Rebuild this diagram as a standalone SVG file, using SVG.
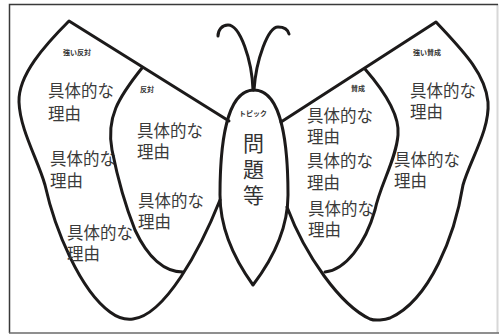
<svg xmlns="http://www.w3.org/2000/svg" width="501" height="335" viewBox="0 0 501 335" lang="ja">
  <defs>
    <style>
      .outline { fill: none; stroke: #1c1a1a; stroke-width: 3; stroke-linejoin: round; stroke-linecap: round; }
      .reason { font-family: "Liberation Sans", "Noto Sans CJK JP", sans-serif; font-size: 16.5px; fill: #3a3a3a; }
      .tag { font-family: "Liberation Sans", "Noto Sans CJK JP", sans-serif; font-size: 7px; font-weight: bold; fill: #333; text-anchor: middle; }
      .topic { font-family: "Liberation Sans", "Noto Sans CJK JP", sans-serif; font-size: 21px; fill: #333; writing-mode: vertical-rl; letter-spacing: 5px; }
    </style>
  </defs>

  <rect width="501" height="335" fill="#fff"/>
  <!-- frame -->
  <line x1="497.5" y1="4" x2="497.5" y2="333" stroke="#d8d8d8" stroke-width="2"/>
  <path d="M9.5,333 V4.5 H498" fill="none" stroke="#3a3a3a" stroke-width="1.5"/>
  <line x1="9" y1="333" x2="499" y2="333" stroke="#6a6a6a" stroke-width="1.5"/>

  <g id="connectors">
    <!-- antennae -->
    <path class="outline" d="M253,90 C252,60 240,25 228,25 C222,25 218,30 218,36"/>
    <path class="outline" d="M254,90 C256,60 268,27 278,27 C284,27 288,30 289,34"/>
  </g>

  <g id="wing-strong-against">
    <path class="outline" d="M229,121 L69,21 C45,45 18,75 19,102 C20,130 38,160 45,185 C55,230 80,290 110,312 C118,318 126,320 133,319 C165,315 200,250 220,200"/>
    <text class="tag" x="77" y="55">強い反対</text>
    <text class="reason"><tspan x="48" y="97">具体的な</tspan><tspan x="48" dy="23">理由</tspan></text>
    <text class="reason"><tspan x="50" y="165">具体的な</tspan><tspan x="50" dy="22">理由</tspan></text>
    <text class="reason"><tspan x="67" y="239">具体的な</tspan><tspan x="67" dy="21">理由</tspan></text>
  </g>

  <g id="wing-against">
    <path class="outline" d="M142,68 C118,98 106,118 112,150 C118,180 125,205 135,230 C148,258 165,272 183,272"/>
    <text class="tag" x="147" y="92">反対</text>
    <text class="reason"><tspan x="137" y="137">具体的な</tspan><tspan x="137" dy="21">理由</tspan></text>
    <text class="reason"><tspan x="138" y="207">具体的な</tspan><tspan x="138" dy="21">理由</tspan></text>
  </g>

  <g id="body-topic">
    <path class="outline" d="M253,285 C235,260 220,230 220,195 C220,150 225,90 254,90 C283,90 288,150 288,195 C288,230 272,260 253,285 Z" fill="#fff"/>
    <text class="tag" x="253" y="116">トピック</text>
    <text class="topic" x="252" y="133">問題等</text>
  </g>

  <g id="wing-for">
    <path class="outline" d="M365,69 C385,92 400,115 398,135 C396,160 380,185 375,210 C365,245 345,270 325,272"/>
    <text class="tag" x="358" y="91">賛成</text>
    <text class="reason"><tspan x="307" y="122">具体的な</tspan><tspan x="307" dy="21">理由</tspan></text>
    <text class="reason"><tspan x="307" y="167">具体的な</tspan><tspan x="307" dy="22">理由</tspan></text>
    <text class="reason"><tspan x="308" y="215">具体的な</tspan><tspan x="308" dy="21">理由</tspan></text>
  </g>

  <g id="wing-strong-for">
    <path class="outline" d="M281,122 L436,22 C460,48 485,72 488,102 C490,130 470,160 463,185 C455,235 430,300 390,318 C385,320 375,321 370,319 C340,305 305,255 287,207"/>
    <text class="tag" x="427" y="55">強い賛成</text>
    <text class="reason"><tspan x="410" y="97">具体的な</tspan><tspan x="410" dy="21">理由</tspan></text>
    <text class="reason"><tspan x="394" y="166">具体的な</tspan><tspan x="394" dy="21">理由</tspan></text>
  </g>
</svg>
